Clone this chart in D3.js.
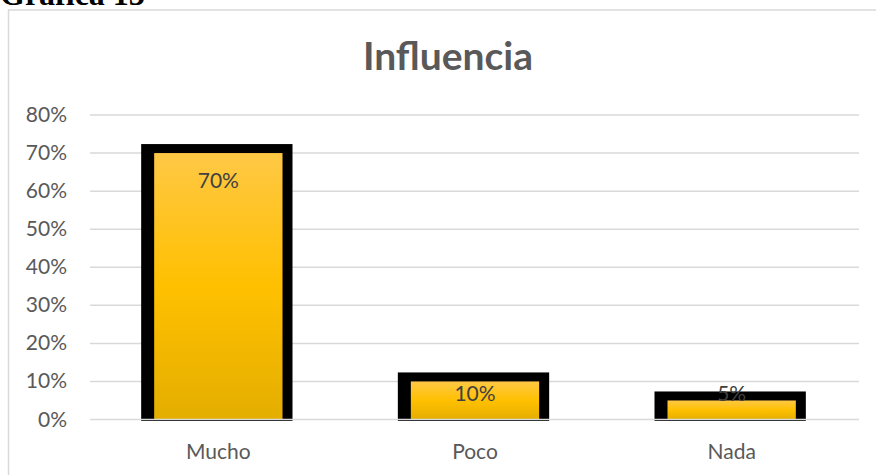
<!DOCTYPE html>
<html>
<head>
<meta charset="utf-8">
<script src="https://cdn.jsdelivr.net/npm/d3@7/dist/d3.min.js"></script>
<style>
  body { margin: 0; background: #fff; }
  svg { display: block; }
</style>
</head>
<body>
<svg width="876" height="475"></svg>
<script>
const categories = ['Mucho', 'Poco', 'Nada'];
const values = [0.70, 0.10, 0.05];
const labels = ['70%', '10%', '5%'];
const yTicks = [0, 0.1, 0.2, 0.3, 0.4, 0.5, 0.6, 0.7, 0.8];

const svg = d3.select('svg');
const width = +svg.attr('width');
const height = +svg.attr('height');

const font = 'Lato, "Open Sans", sans-serif';

// heading above the chart, mostly cut off
svg.append('text')
    .attr('x', 0)
    .attr('y', 5)
    .attr('font-family', '"Liberation Serif", serif')
    .attr('font-weight', 'bold')
    .attr('font-size', 32)
    .attr('fill', '#000')
    .text('Gráfica 13');

// chart area border
svg.append('rect')
    .attr('x', 8.5)
    .attr('y', 10)
    .attr('width', width + 20)
    .attr('height', height + 20)
    .attr('fill', 'none')
    .attr('stroke', '#d9d9d9')
    .attr('stroke-width', 1.5);

svg.append('text')
    .attr('x', 448)
    .attr('y', 70)
    .attr('text-anchor', 'middle')
    .attr('font-family', font)
    .attr('font-weight', 'bold')
    .attr('font-size', 39)
    .attr('fill', '#595959')
    .text('Influencia');

const x = d3.scaleBand()
    .domain(categories)
    .range([90, 860])
    .paddingInner(0.5)
    .paddingOuter(0.25);

const y = d3.scaleLinear()
    .domain([0, 0.8])
    .range([419.5, 115]);

const defs = svg.append('defs');
const grad = defs.append('linearGradient')
    .attr('id', 'gold')
    .attr('x1', 0).attr('y1', 0)
    .attr('x2', 0).attr('y2', 1);
grad.append('stop').attr('offset', '0%').attr('stop-color', '#ffc845');
grad.append('stop').attr('offset', '50%').attr('stop-color', '#ffc000');
grad.append('stop').attr('offset', '100%').attr('stop-color', '#e4ae00');

// gridlines
svg.append('g')
    .selectAll('line')
    .data(yTicks.filter(d => d > 0))
    .enter().append('line')
    .attr('x1', 90)
    .attr('x2', 859)
    .attr('y1', d => y(d))
    .attr('y2', d => y(d))
    .attr('stroke', '#d9d9d9')
    .attr('stroke-width', 1.5);

// y tick labels
svg.append('g')
    .selectAll('text')
    .data(yTicks)
    .enter().append('text')
    .attr('x', 67)
    .attr('y', d => y(d) + 7)
    .attr('text-anchor', 'end')
    .attr('font-family', font)
    .attr('font-size', 21)
    .attr('fill', '#595959')
    .text(d => Math.round(d * 100) + '%');

const data = categories.map((c, i) => ({ cat: c, value: values[i], label: labels[i] }));

// thick black outline behind each bar
svg.append('g')
    .selectAll('rect')
    .data(data)
    .enter().append('rect')
    .attr('x', d => x(d.cat) - 13)
    .attr('y', d => y(d.value) - 9)
    .attr('width', x.bandwidth() + 23)
    .attr('height', d => y(0) - y(d.value) + 10.5)
    .attr('fill', '#000');

svg.append('g')
    .selectAll('rect')
    .data(data)
    .enter().append('rect')
    .attr('x', d => x(d.cat))
    .attr('y', d => y(d.value))
    .attr('width', x.bandwidth())
    .attr('height', d => y(0) - y(d.value))
    .attr('fill', 'url(#gold)');

// zero line drawn over the bars
svg.append('line')
    .attr('x1', 90)
    .attr('x2', 859)
    .attr('y1', y(0))
    .attr('y2', y(0))
    .attr('stroke', '#d9d9d9')
    .attr('stroke-width', 1.5);

// data labels
svg.append('g')
    .selectAll('text')
    .data(data)
    .enter().append('text')
    .attr('x', d => x(d.cat) + x.bandwidth() / 2)
    .attr('y', d => Math.min(y(d.value) + 35, y(0) - 18.5))
    .attr('text-anchor', 'middle')
    .attr('font-family', font)
    .attr('font-size', 21)
    .attr('fill', '#404040')
    .text(d => d.label);

// category labels
svg.append('g')
    .selectAll('text')
    .data(categories)
    .enter().append('text')
    .attr('x', d => x(d) + x.bandwidth() / 2)
    .attr('y', 459)
    .attr('text-anchor', 'middle')
    .attr('font-family', font)
    .attr('font-size', 21)
    .attr('fill', '#595959')
    .text(d => d);
</script>
</body>
</html>
